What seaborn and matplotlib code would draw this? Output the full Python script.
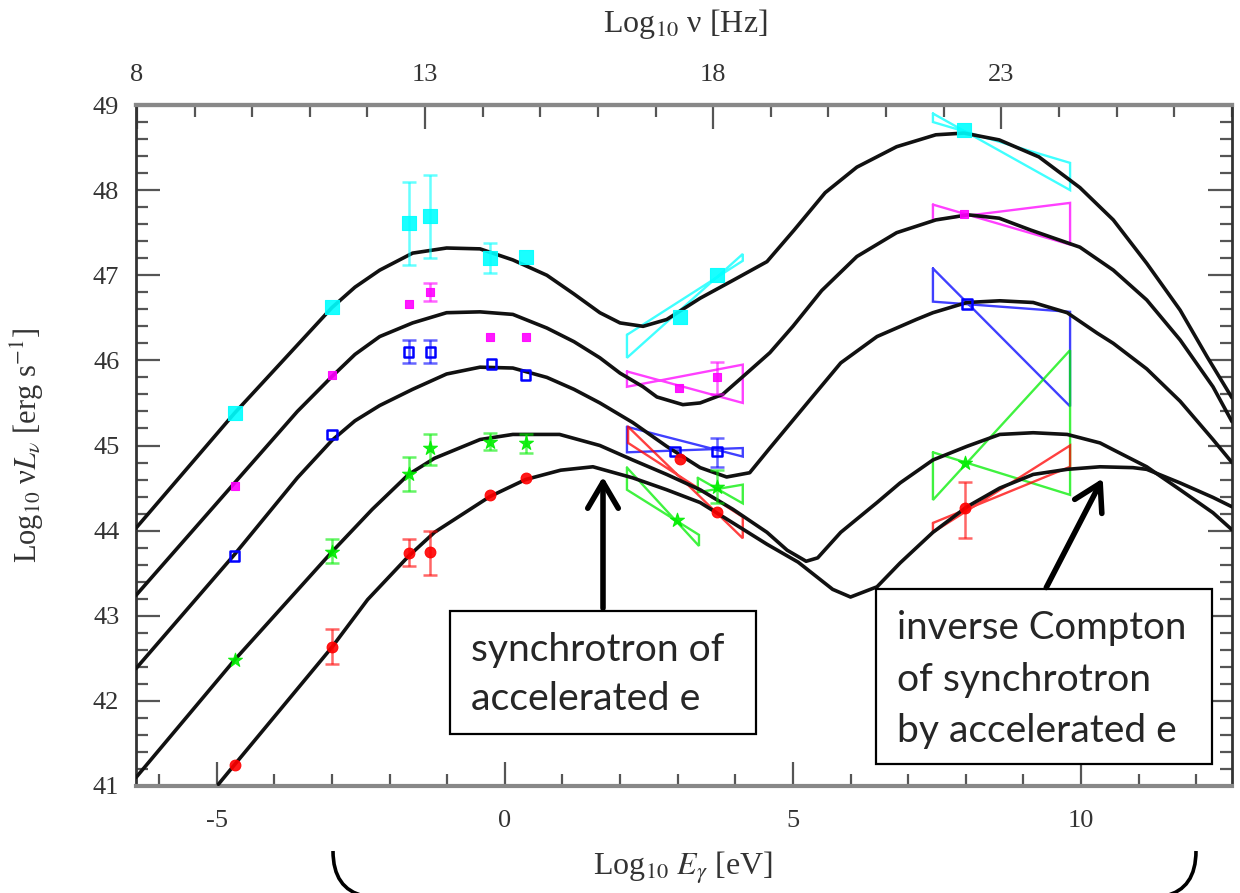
import numpy as np
import pandas as pd
import matplotlib
matplotlib.use("Agg")
import matplotlib.pyplot as plt
import seaborn as sns
from matplotlib.patches import Rectangle, PathPatch, FancyArrowPatch
from matplotlib.path import Path
from matplotlib.ticker import MultipleLocator

# ---------------- data (log10 E_gamma [eV], log10 nu L_nu [erg/s]) ----------------
cyan_curve_x = [-6.40, -4.69, -3.0, -2.6, -2.17, -1.6, -1.01, -0.43, 0.14, 0.73, 1.2, 1.65, 2.0, 2.4,
                2.81, 3.39, 3.96, 4.55, 5.02, 5.56, 6.11, 6.8, 7.48, 7.97, 8.58, 9.27, 9.98, 10.56, 11.14,
                11.72, 12.19, 12.62]
cyan_curve_y = [44.03, 45.38, 46.62, 46.86, 47.06, 47.26, 47.32, 47.31, 47.18, 47.00, 46.78, 46.56,
                46.44, 46.40, 46.48, 46.73, 46.94, 47.16, 47.53, 47.97, 48.27, 48.51, 48.65, 48.67, 48.59,
                48.39, 48.03, 47.65, 47.14, 46.59, 46.04, 45.56]

magenta_curve_x = [-6.40, -4.69, -3.6, -3.0, -2.6, -2.17, -1.6, -1.01, -0.43, 0.14, 0.73, 1.2, 1.65, 2.0,
                   2.4, 2.64, 3.09, 3.39, 3.78, 4.2, 4.6, 5.0, 5.5, 6.11, 6.8, 7.48, 8.04, 8.58, 9.13, 9.98,
                   10.56, 11.14, 11.72, 12.29, 12.62]
magenta_curve_y = [43.24, 44.56, 45.40, 45.81, 46.07, 46.28, 46.44, 46.56, 46.57, 46.54, 46.38, 46.22,
                   46.03, 45.85, 45.69, 45.57, 45.48, 45.50, 45.60, 45.85, 46.09, 46.40, 46.82, 47.22,
                   47.50, 47.65, 47.71, 47.67, 47.53, 47.33, 47.06, 46.71, 46.24, 45.69, 45.28]

blue_curve_x = [-6.40, -4.69, -3.6, -3.0, -2.6, -2.17, -1.6, -1.01, -0.43, 0.14, 0.73, 1.2, 1.65, 2.22,
                2.81, 3.39, 3.85, 4.25, 4.6, 5.3, 5.83, 6.46, 7.14, 7.43, 8.02, 8.59, 9.17, 9.76, 10.28,
                10.56, 11.14, 11.72, 12.29, 12.62]
blue_curve_y = [42.38, 43.72, 44.62, 45.06, 45.29, 45.47, 45.66, 45.84, 45.92, 45.91, 45.80, 45.66,
                45.50, 45.27, 44.99, 44.74, 44.63, 44.68, 44.97, 45.54, 45.97, 46.28, 46.48, 46.56, 46.68,
                46.70, 46.68, 46.56, 46.32, 46.20, 45.90, 45.52, 45.07, 44.80]

green_curve_x = [-6.40, -4.69, -3.0, -2.3, -1.67, -1.22, -0.43, 0.14, 0.95, 1.65, 2.22, 2.81, 3.39, 3.96,
                 4.55, 4.9, 5.23, 5.43, 5.83, 6.46, 6.86, 7.43, 8.02, 8.59, 9.17, 9.76, 10.33, 10.56, 11.14,
                 11.72, 12.29, 12.62]
green_curve_y = [41.10, 42.48, 43.75, 44.25, 44.66, 44.85, 45.07, 45.13, 45.13, 45.00, 44.83, 44.66, 44.48,
                 44.25, 43.98, 43.77, 43.64, 43.68, 43.98, 44.33, 44.56, 44.83, 44.99, 45.13, 45.15, 45.13,
                 45.03, 44.95, 44.75, 44.48, 44.21, 44.01]

red_curve_x = [-4.97, -4.69, -3.0, -2.38, -1.67, -1.22, -0.26, 0.36, 0.97, 1.53, 2.22, 2.81, 3.39, 3.96,
               4.55, 5.09, 5.69, 6.0, 6.46, 6.86, 7.43, 8.02, 8.59, 9.17, 9.76, 10.33, 10.9, 11.14, 11.72,
               12.29, 12.62]
red_curve_y = [41.02, 41.25, 42.63, 43.19, 43.70, 43.98, 44.40, 44.60, 44.71, 44.75, 44.62, 44.48, 44.33,
               44.09, 43.84, 43.63, 43.31, 43.22, 43.34, 43.62, 43.98, 44.28, 44.50, 44.66, 44.72, 44.75,
               44.74, 44.72, 44.56, 44.39, 44.28]

# observed points
cyan_pts_x = [-4.69, -3.0, -1.67, -1.29, -0.26, 0.36, 3.04, 3.68, 7.97]
cyan_pts_y = [45.38, 46.63, 47.61, 47.70, 47.20, 47.22, 46.51, 47.00, 48.71]
cyan_err_lo = [np.nan, np.nan, 47.12, 47.20, 47.03, np.nan, np.nan, np.nan, np.nan]
cyan_err_hi = [np.nan, np.nan, 48.10, 48.18, 47.38, np.nan, np.nan, np.nan, np.nan]

magenta_pts_x = [-4.69, -3.0, -1.67, -1.29, -0.26, 0.36, 3.02, 3.68, 7.97]
magenta_pts_y = [44.53, 45.83, 46.66, 46.80, 46.28, 46.28, 45.68, 45.80, 47.72]
magenta_err_lo = [np.nan, np.nan, np.nan, 46.70, np.nan, np.nan, np.nan, 45.60, np.nan]
magenta_err_hi = [np.nan, np.nan, np.nan, 46.91, np.nan, np.nan, np.nan, 45.98, np.nan]

blue_pts_x = [-4.69, -3.0, -1.67, -1.29, -0.23, 0.36, 2.95, 3.68, 8.02]
blue_pts_y = [43.70, 45.13, 46.10, 46.10, 45.96, 45.83, 44.93, 44.93, 46.66]
blue_err_lo = [np.nan, np.nan, 45.97, 45.97, np.nan, np.nan, np.nan, 44.75, np.nan]
blue_err_hi = [np.nan, np.nan, 46.24, 46.24, np.nan, np.nan, np.nan, 45.09, np.nan]

green_pts_x = [-4.69, -3.0, -1.67, -1.29, -0.26, 0.36, 2.99, 3.68, 7.99]
green_pts_y = [42.48, 43.75, 44.66, 44.97, 45.04, 45.03, 44.13, 44.51, 44.79]
green_err_lo = [np.nan, 43.62, 44.46, 44.77, 44.95, 44.91, np.nan, 44.32, np.nan]
green_err_hi = [np.nan, 43.90, 44.87, 45.13, 45.15, 45.13, np.nan, 44.71, np.nan]

red_pts_x = [-4.69, -3.0, -1.67, -1.29, -0.26, 0.36, 3.04, 3.68, 7.99]
red_pts_y = [41.25, 42.63, 43.74, 43.75, 44.42, 44.62, 44.84, 44.22, 44.27]
red_err_lo = [np.nan, 42.43, 43.58, 43.48, np.nan, np.nan, np.nan, np.nan, 43.91]
red_err_hi = [np.nan, 42.84, 43.90, 43.99, np.nan, np.nan, np.nan, np.nan, 44.57]

# bow-ties: [x_left, x_right], [lo, hi] at left end, [lo, hi] at right end
cyan_bt_x = [[2.12, 4.13], [7.43, 9.81]]
cyan_bt_left = [[46.03, 46.30], [48.80, 48.90]]
cyan_bt_right = [[47.17, 47.25], [48.00, 48.32]]

magenta_bt_x = [[2.12, 4.13], [7.43, 9.81]]
magenta_bt_left = [[45.69, 45.87], [47.65, 47.83]]
magenta_bt_right = [[45.50, 45.95], [47.36, 47.85]]

blue_bt_x = [[2.12, 4.13], [7.43, 9.81]]
blue_bt_left = [[44.92, 45.22], [46.69, 47.08]]
blue_bt_right = [[44.87, 44.97], [45.46, 46.57]]

green_bt_x = [[2.12, 3.37], [3.35, 4.13], [7.43, 9.81]]
green_bt_left = [[44.48, 44.74], [44.45, 44.62], [44.36, 44.92]]
green_bt_right = [[43.82, 43.95], [44.32, 44.54], [44.42, 46.12]]

red_bt_x = [[2.14, 4.13], [7.43, 9.81]]
red_bt_left = [[45.03, 45.22], [43.98, 44.09]]
red_bt_right = [[43.91, 44.16], [44.75, 45.00]]

x_ticks_bottom = [-5, 0, 5, 10]
x_ticks_top = [8, 13, 18, 23]
y_ticks = [41, 42, 43, 44, 45, 46, 47, 48, 49]

# ---------------- style ----------------
sns.set_theme(style="ticks")
plt.rcParams["font.family"] = ["Liberation Serif", "DejaVu Serif"]
plt.rcParams["mathtext.fontset"] = "stix"
plt.rcParams["axes.unicode_minus"] = False

W, H = 1240, 893
fig = plt.figure(figsize=(W / 100, H / 100), dpi=100)
L, R, T, B = 136, 1232, 105, 786
ax = fig.add_axes([L / W, 1 - B / H, (R - L) / W, (B - T) / H])

def fx(px):
    return px / W

def fy(py):
    return 1 - py / H

series = [
    ("cyan", "#00ffff", cyan_curve_x, cyan_curve_y, cyan_pts_x, cyan_pts_y, cyan_err_lo, cyan_err_hi,
     cyan_bt_x, cyan_bt_left, cyan_bt_right, "s", 95, True),
    ("magenta", "#ff00ff", magenta_curve_x, magenta_curve_y, magenta_pts_x, magenta_pts_y, magenta_err_lo,
     magenta_err_hi, magenta_bt_x, magenta_bt_left, magenta_bt_right, "s", 40, True),
    ("blue", "#0000ff", blue_curve_x, blue_curve_y, blue_pts_x, blue_pts_y, blue_err_lo, blue_err_hi,
     blue_bt_x, blue_bt_left, blue_bt_right, "s", 50, False),
    ("green", "#00ee00", green_curve_x, green_curve_y, green_pts_x, green_pts_y, green_err_lo, green_err_hi,
     green_bt_x, green_bt_left, green_bt_right, "*", 110, True),
    ("red", "#ff0000", red_curve_x, red_curve_y, red_pts_x, red_pts_y, red_err_lo, red_err_hi,
     red_bt_x, red_bt_left, red_bt_right, "o", 60, True),
]

# bow-ties
for name, col, cx, cy, px_, py_, elo, ehi, btx, btl, btr, mk, ms, filled in series:
    for (x1, x2), (lo1, hi1), (lo2, hi2) in zip(btx, btl, btr):
        ax.plot([x1, x2, x2, x1, x1], [hi1, lo2, hi2, lo1, hi1], color=col, lw=1.7, alpha=0.75,
                solid_joinstyle="miter", zorder=2)

# model curves
rows = []
for name, col, cx, cy, *_ in series:
    for xv, yv in zip(cx, cy):
        rows.append((name, xv, yv))
df_curves = pd.DataFrame(rows, columns=["sed", "E", "L"])
sns.lineplot(data=df_curves, x="E", y="L", units="sed", estimator=None, sort=False,
             color="#111111", lw=2.6, ax=ax, legend=False, zorder=3)

# points
for name, col, cx, cy, px_, py_, elo, ehi, btx, btl, btr, mk, ms, filled in series:
    dfp = pd.DataFrame({"E": px_, "L": py_, "lo": elo, "hi": ehi})
    de = dfp.dropna()
    if len(de):
        ax.errorbar(de["E"], de["L"], yerr=[de["L"] - de["lo"], de["hi"] - de["L"]], fmt="none",
                    ecolor=col, elinewidth=1.8, capsize=5, capthick=1.8, alpha=0.6, zorder=4)
    if filled:
        sns.scatterplot(data=dfp, x="E", y="L", marker=mk, s=ms, color=col, edgecolor=col,
                        linewidth=0.8, ax=ax, legend=False, zorder=5, alpha=0.9)
    else:
        sns.scatterplot(data=dfp, x="E", y="L", marker=mk, s=ms, facecolor="none", edgecolor=col,
                        linewidth=1.8, ax=ax, legend=False, zorder=5)

# axes
ax.set_xlim(-6.40, 12.62)
ax.set_ylim(41, 49)
ax.set_xlabel("")
ax.set_ylabel("")
ax.set_xticks(x_ticks_bottom)
ax.set_yticks(y_ticks)
ax.xaxis.set_minor_locator(MultipleLocator(1))
ax.yaxis.set_minor_locator(MultipleLocator(0.2))
ax.tick_params(which="major", direction="in", length=17, width=1.6, color="#555555",
               labelsize=19, labelcolor="#333333", right=True, top=False)
ax.tick_params(which="minor", direction="in", length=8.5, width=1.6, color="#555555", right=True, top=False)
ax.tick_params(axis="x", pad=17)
ax.tick_params(axis="y", pad=12)
for s in ["top", "bottom"]:
    ax.spines[s].set_color("#888888")
    ax.spines[s].set_linewidth(3)
for s in ["left", "right"]:
    ax.spines[s].set_color("#333333")
    ax.spines[s].set_linewidth(2)

sec = ax.secondary_xaxis("top", functions=(lambda e: e + 14.383, lambda v: v - 14.383))
sec.set_xticks(x_ticks_top)
sec.xaxis.set_minor_locator(MultipleLocator(1))
sec.tick_params(which="major", direction="in", length=17, width=1.6, color="#555555",
                labelsize=19, labelcolor="#333333", pad=14)
sec.tick_params(which="minor", direction="in", length=8.5, width=1.6, color="#555555")
sec.spines["top"].set_color("#888888")
sec.spines["top"].set_linewidth(3)

# axis titles
fig.text(fx(685), fy(24), r"Log$_{10}$ ν [Hz]", ha="center", va="center", fontsize=23, color="#333333")
fig.text(fx(683), fy(868), r"Log$_{10}$ $E_{\gamma}$ [eV]", ha="center", va="center", fontsize=23,
         color="#333333")
fig.text(fx(27), fy(445), r"Log$_{10}$ ν$L_{\nu}$ [erg s$^{-1}$]", ha="center", va="center",
         fontsize=22, rotation=90, color="#333333")

# annotation boxes
tfam = ["Lato", "DejaVu Sans"]
fig.patches.append(Rectangle((fx(450), fy(734)), fx(756) - fx(450), fy(611) - fy(734),
                             transform=fig.transFigure, fill=True, facecolor="white",
                             edgecolor="black", lw=1.6, zorder=10))
fig.patches.append(Rectangle((fx(876), fy(764)), fx(1212) - fx(876), fy(589) - fy(764),
                             transform=fig.transFigure, fill=True, facecolor="white",
                             edgecolor="black", lw=1.6, zorder=10))

def fitted_text(px, py, s, target_w):
    t = fig.text(fx(px), fy(py), s, ha="left", va="center", fontsize=26, family=tfam, zorder=11)
    fig.canvas.draw()
    w = t.get_window_extent().width
    t.set_fontsize(26 * target_w / w)
    return t

fitted_text(471, 650, "synchrotron of", 253)
fitted_text(471, 699, "accelerated e", 229)
fitted_text(897, 628, "inverse Compton", 289)
fitted_text(897, 680, "of synchrotron", 254)
fitted_text(897, 731, "by accelerated e", 279)

# arrows
for (x0, y0), (x1, y1) in [((603, 611), (603, 474)), ((1045, 590), (1104, 476))]:
    fig.patches.append(FancyArrowPatch((fx(x0), fy(y0)), (fx(x1), fy(y1)), transform=fig.transFigure,
                                       arrowstyle="->,head_length=0.85,head_width=0.5", mutation_scale=22,
                                       lw=4, color="black", zorder=12))

# brace under the axis
for (a, b, c) in [((333, 851), (333, 889), (364, 896)), ((1196, 851), (1196, 889), (1165, 896))]:
    path = Path([(fx(a[0]), fy(a[1])), (fx(b[0]), fy(b[1])), (fx(c[0]), fy(c[1]))],
                [Path.MOVETO, Path.CURVE3, Path.CURVE3])
    fig.patches.append(PathPatch(path, transform=fig.transFigure, fill=False, lw=2.6, color="black"))

fig.savefig("out.png", dpi=100)
